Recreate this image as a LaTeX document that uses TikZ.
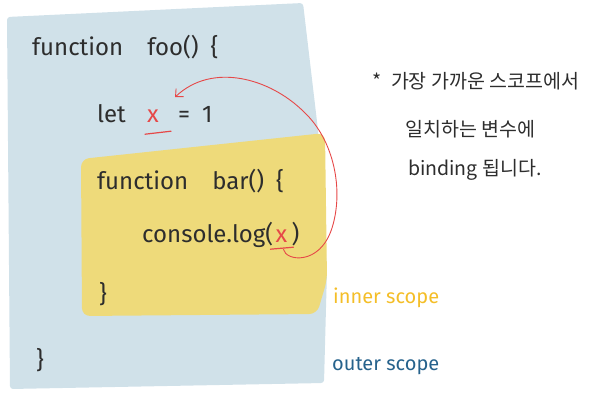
\documentclass[tikz,border=0pt]{standalone}
\usepackage{fontspec}
\setmainfont{Fira Sans}
\newfontfamily\krfont{Noto Sans CJK KR}
\usepackage{xcolor}
\usepackage{tikz}
\usetikzlibrary{arrows.meta, positioning, calc}
\definecolor{scopeblue}{RGB}{208,225,233}
\definecolor{scopeyellow}{RGB}{238,218,122}
\definecolor{inkgray}{RGB}{45,45,45}
\definecolor{inkred}{RGB}{230,72,72}
\definecolor{inneryellow}{RGB}{244,190,40}
\definecolor{outerblue}{RGB}{38,98,140}
\tikzset{
  codeline/.style={
    anchor=base west, inner sep=0pt, text=inkgray,
    font=\fontsize{24}{28}\selectfont
  },
  varname/.style={codeline, text=inkred},
  noteline/.style={
    anchor=base west, inner sep=0pt, text=inkgray,
    font=\krfont\fontsize{19.5}{23}\selectfont
  },
  scopelabel/.style={
    anchor=base west, inner sep=0pt, font=\fontsize{20}{24}\selectfont
  },
  underline/.style={inkred, line width=1.2pt, line cap=round},
  binding/.style={inkred, line width=0.9pt, -{Straight Barb[length=6pt, width=11pt]}}
}

\begin{document}
\begin{tikzpicture}[x=1pt, y=-1pt]
\useasboundingbox (0,0) rectangle (590,400);

% scopes
\fill[scopeblue, rounded corners=3pt] (7,17) -- (303,3) -- (318,130) -- (327,270) -- (324,383) -- (10,389) -- cycle;
\fill[scopeyellow, rounded corners=8pt] (81,159) -- (325,133) -- (327,280) -- (317,314) -- (82,316) -- cycle;

% outer function
\node[codeline] (foo) at (32,55) {function\quad foo()\enspace\{};
\node[codeline] (letkw) at (97,122) {let};
\node[varname] (xdef) at (147,122) {x};
\node[codeline] (one) at (178,122) {=\hspace{12pt}1};

% inner function
\node[codeline] (bar) at (97,189) {function\quad bar()\enspace\{};
\node[codeline] (logcall) at (142,242) {console.log(};
\node[varname, right=2pt of logcall.base east, anchor=base west] (xuse) {x};
\node[codeline, right=4pt of xuse.base east, anchor=base west] (logclose) {)};
\node[codeline] (barend) at (99,302) {\}};
\node[codeline] (fooend) at (36,368) {\}};

% underlines and binding
\draw[underline] ([xshift=-2pt, yshift=-12pt]xdef.south west) -- ([xshift=12pt, yshift=-9pt]xdef.south east);
\draw[underline] ([xshift=-5pt, yshift=-7pt]xuse.south west) -- ([xshift=6pt, yshift=-5pt]xuse.south east);
\coordinate (tail) at ([xshift=2pt, yshift=-7pt]xuse.south);
\draw[binding] (tail) .. controls ($(tail)+(2,12)$) and (320,266) .. (332,228)
  .. controls (344,190) and (334,140) .. (304,112)
  .. controls (270,78) and (212,62) .. ([xshift=16pt, yshift=12pt]xdef.north east);

% note
\node[noteline] (note1) at (372,88) {*\enspace 가장 가까운 스코프에서};
\node[noteline] (note2) at (405,136) {일치하는 변수에};
\node[noteline] (note3) at (408,175) {binding 됩니다.};

% scope labels
\node[scopelabel, text=inneryellow] (innerlbl) at (333,303) {inner scope};
\node[scopelabel, text=outerblue] (outerlbl) at (332,370) {outer scope};

\end{tikzpicture}
\end{document}
